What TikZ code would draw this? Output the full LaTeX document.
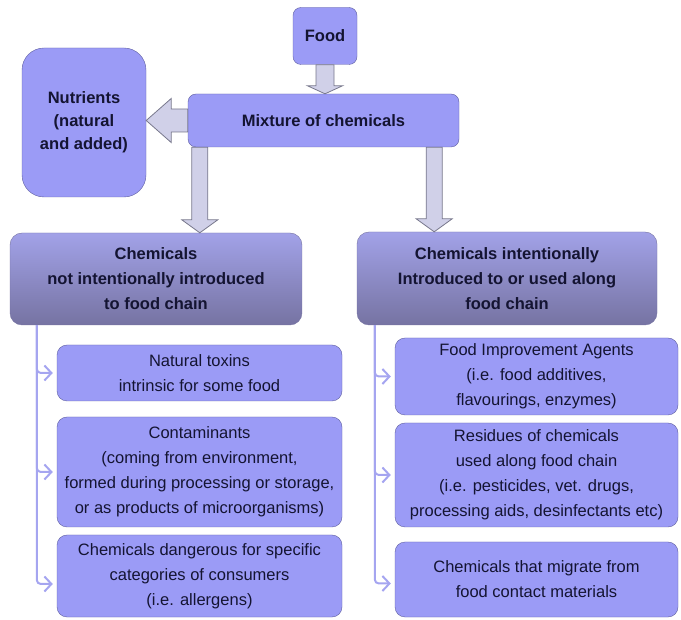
\documentclass[tikz,border=0pt]{standalone}
\usepackage{fontspec}
\setmainfont{Liberation Sans}
\usetikzlibrary{arrows.meta,calc}

\definecolor{boxfill}{RGB}{155,155,246}
\definecolor{boxline}{RGB}{95,95,160}
\definecolor{headtop}{RGB}{162,162,232}
\definecolor{headbot}{RGB}{118,115,162}
\definecolor{arrowfill}{RGB}{208,208,232}
\definecolor{arrowline}{RGB}{120,120,140}
\definecolor{branchline}{RGB}{165,165,240}
\definecolor{textnavy}{RGB}{20,20,50}

% fat block arrows: from, to, shaft half width, head half width, head length
\newcommand{\vblock}[5]{%
  \draw[blockarrow] let \p1=(#1), \p2=(#2) in
    (\x1-#3,\y1) -- (\x1-#3,\y2+#5) -- (\x1-#4,\y2+#5) -- (\x1,\y2)
    -- (\x1+#4,\y2+#5) -- (\x1+#3,\y2+#5) -- (\x1+#3,\y1) -- cycle;}
\newcommand{\hblock}[5]{%
  \draw[blockarrow] let \p1=(#1), \p2=(#2) in
    (\x1,\y1-#3) -- (\x2+#5,\y1-#3) -- (\x2+#5,\y1-#4) -- (\x2,\y1)
    -- (\x2+#5,\y1+#4) -- (\x2+#5,\y1+#3) -- (\x1,\y1+#3) -- cycle;}

\begin{document}
\begin{tikzpicture}[x=1pt, y=-1pt,
    box/.style={draw=boxline, fill=boxfill, rounded corners=8pt, text=textnavy,
      inner sep=0pt, align=center, font=\fontsize{16.5}{25}\selectfont},
    topbox/.style={box, font=\bfseries\fontsize{16.5}{23}\selectfont},
    header/.style={rounded corners=12pt, top color=headtop, bottom color=headbot,
      draw=headbot, text=textnavy, inner sep=0pt, align=center,
      font=\bfseries\fontsize{16.5}{25}\selectfont},
    subbox/.style={box, rounded corners=10pt},
    blockarrow/.style={draw=arrowline, fill=arrowfill, line width=0.8pt},
    branch/.style={draw=branchline, line width=2pt, rounded corners=4pt,
      -{Straight Barb[length=7pt,width=15pt]}, shorten >=4pt}]
  \useasboundingbox (0,0) rectangle (681,620);

  % ===== Top: food and its mixture =====
  \node[topbox, minimum width=64pt, minimum height=57pt] (food) at (325,36) {Food};
  \node[topbox, minimum width=271pt, minimum height=53pt] (mix) at (323.5,120.5) {Mixture of chemicals};
  \node[topbox, rounded corners=22pt, minimum width=124pt, minimum height=149pt] (nutr) at (84,122.5)
    {Nutrients\\(natural\\and added)};

  % ===== Headers =====
  \node[header, minimum width=292pt, minimum height=92pt] (hdrL) at (156,279)
    {Chemicals\\not intentionally introduced\\to food chain};
  \node[header, minimum width=300pt, minimum height=93pt] (hdrR) at (507,278.5)
    {Chemicals intentionally\\Introduced to or used along\\food chain};

  % block arrows
  \coordinate (dL) at ([xshift=12pt]mix.south west);
  \coordinate (dR) at ([xshift=-25pt]mix.south east);
  \vblock{food.south}{mix.north}{9pt}{17.5pt}{8pt}
  \vblock{dL}{hdrL.north -| dL}{8pt}{18pt}{13pt}
  \vblock{dR}{hdrR.north -| dR}{8pt}{18pt}{13pt}
  \hblock{mix.west}{nutr.east}{11.5pt}{22pt}{25pt}

  % ===== Left column =====
  \node[subbox, minimum width=285pt, minimum height=56pt] (nt) at (199.5,373)
    {Natural toxins\\intrinsic for some food};
  \node[subbox, minimum width=285pt, minimum height=110pt] (cont) at (199.5,472)
    {Contaminants\\(coming from environment,\\formed during processing or storage,\\or as products of microorganisms)};
  \node[subbox, minimum width=285pt, minimum height=82pt] (dang) at (199.5,576)
    {Chemicals dangerous for specific\\categories of consumers\\(i.e. allergens)};

  \coordinate (spL) at ([xshift=27pt]hdrL.south west);
  \draw[branch] (spL) |- (nt.west);
  \draw[branch] (spL) |- (cont.west);
  \draw[branch] (spL) |- ([yshift=-8pt]dang.west);

  % ===== Right column =====
  \node[subbox, minimum width=283pt, minimum height=77pt] (fia) at (536.5,376.5)
    {Food Improvement Agents\\(i.e. food additives,\\flavourings, enzymes)};
  \node[subbox, minimum width=283pt, minimum height=104pt] (res) at (536.5,475)
    {Residues of chemicals\\used along food chain\\(i.e. pesticides, vet. drugs,\\processing aids, desinfectants etc)};
  \node[subbox, minimum width=283pt, minimum height=75pt] (mig) at (536.5,579.5)
    {Chemicals that migrate from\\food contact materials};

  \coordinate (spR) at ([xshift=18pt]hdrR.south west);
  \draw[branch] (spR) |- (fia.west);
  \draw[branch] (spR) |- (res.west);
  \draw[branch] (spR) |- ([yshift=-4pt]mig.west);
\end{tikzpicture}
\end{document}
